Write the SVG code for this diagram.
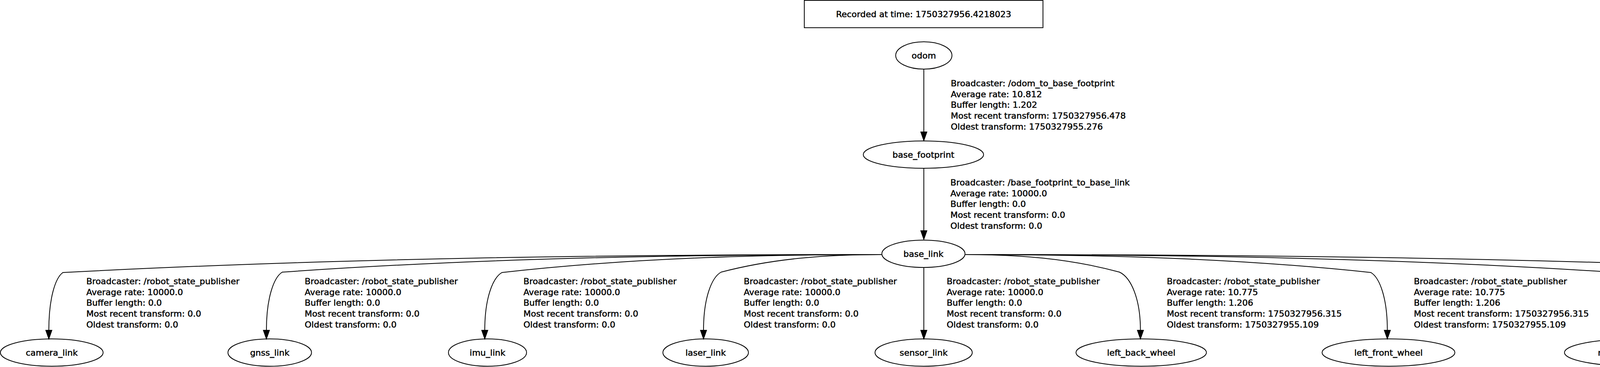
<svg xmlns="http://www.w3.org/2000/svg" width="5342" height="940" viewBox="0 0 5342 940">
<style>
  text { font-family: "DejaVu Sans", "Liberation Sans", sans-serif; font-size: 22px; fill: #000; stroke: #000; stroke-width: 0.6; }
  .nl { text-anchor: middle; }
  .node ellipse, .node rect { fill: none; stroke: #000; stroke-width: 2; }
  .edge path { fill: none; stroke: #000; stroke-width: 2; }
  .edge polygon { fill: #000; stroke: #000; stroke-width: 2; }
</style>
<rect x="0" y="0" width="5342" height="940" fill="#fff"/>

<g id="title" class="node">
  <rect x="2059" y="1" width="611" height="70"/>
  <text class="nl" x="2364.5" y="44">Recorded at time: 1750327956.4218023</text>
</g>

<g id="odom" class="node">
  <ellipse cx="2365" cy="142" rx="72" ry="35"/>
  <text class="nl" x="2365" y="150">odom</text>
</g>
<g id="base_footprint" class="node">
  <ellipse cx="2364" cy="396" rx="154" ry="35"/>
  <text class="nl" x="2364" y="404">base_footprint</text>
</g>
<g id="base_link" class="node">
  <ellipse cx="2364" cy="650" rx="106.5" ry="35"/>
  <text class="nl" x="2364" y="658">base_link</text>
</g>
<g id="camera_link" class="node">
  <ellipse cx="132.5" cy="903" rx="131.5" ry="35"/>
  <text class="nl" x="132.5" y="911">camera_link</text>
</g>
<g id="gnss_link" class="node">
  <ellipse cx="690.5" cy="903" rx="107" ry="35"/>
  <text class="nl" x="690.5" y="911">gnss_link</text>
</g>
<g id="imu_link" class="node">
  <ellipse cx="1248" cy="903" rx="100" ry="35"/>
  <text class="nl" x="1248" y="911">imu_link</text>
</g>
<g id="laser_link" class="node">
  <ellipse cx="1806.5" cy="903" rx="109.5" ry="35"/>
  <text class="nl" x="1806.5" y="911">laser_link</text>
</g>
<g id="sensor_link" class="node">
  <ellipse cx="2364.5" cy="903" rx="124.5" ry="35"/>
  <text class="nl" x="2364.5" y="911">sensor_link</text>
</g>
<g id="left_back_wheel" class="node">
  <ellipse cx="2921.5" cy="903" rx="167" ry="35"/>
  <text class="nl" x="2921.5" y="911">left_back_wheel</text>
</g>
<g id="left_front_wheel" class="node">
  <ellipse cx="3554.5" cy="903" rx="170" ry="35"/>
  <text class="nl" x="3554.5" y="911">left_front_wheel</text>
</g>
<g id="right_back_wheel" class="node">
  <ellipse cx="4186" cy="903" rx="181" ry="35"/>
  <text class="nl" x="4186" y="911">right_back_wheel</text>
</g>
<g id="right_front_wheel" class="node">
  <ellipse cx="4818" cy="903" rx="185" ry="35"/>
  <text class="nl" x="4818" y="911">right_front_wheel</text>
</g>

<g id="connectors">
  <g class="edge" id="odom-base_footprint">
    <path d="M2365,177 L2365,338"/>
    <polygon points="2357.3,338 2372.7,338 2365,360"/>
  </g>
  <g class="edge" id="base_footprint-base_link">
    <path d="M2365,431 L2365,591"/>
    <polygon points="2357.3,591 2372.7,591 2365,613"/>
  </g>
  <g class="edge" id="base_link-sensor_link">
    <path d="M2365,685 L2365,846"/>
    <polygon points="2357.3,846 2372.7,846 2365,868"/>
  </g>
  <g class="edge" id="base_link-camera_link">
    <path d="M2258,652 C1559,652 860,661.2 161,698 C141.2,712 125,765 125,846"/>
    <polygon points="117.3,846 132.7,846 125,868"/>
  </g>
  <g class="edge" id="base_link-gnss_link">
    <path d="M2258,652 C1746.2,652 1234.3,661 722.5,697 C700.2,711 682,765 682,846"/>
    <polygon points="674.3,846 689.7,846 682,868"/>
  </g>
  <g class="edge" id="base_link-imu_link">
    <path d="M2258,652 C1933.7,652 1609.3,661.2 1285,698 C1260.8,712 1241,765 1241,846"/>
    <polygon points="1233.3,846 1248.7,846 1241,868"/>
  </g>
  <g class="edge" id="base_link-laser_link">
    <path d="M2258,652 C2120.7,652 1983.3,661 1846,697 C1821,711 1801,765 1801,846"/>
    <polygon points="1793.3,846 1808.7,846 1801,868"/>
  </g>
  <g class="edge" id="base_link-left_back_wheel">
    <path d="M2471,652 C2602.7,652 2734.3,661 2866,697 C2895.4,711 2919.5,765 2919.5,846"/>
    <polygon points="2911.8,846 2927.2,846 2919.5,868"/>
  </g>
  <g class="edge" id="base_link-left_front_wheel">
    <path d="M2471,652 C2817.2,652 3163.4,661.2 3509.6,698 C3532.7,712 3551.6,765 3551.6,846"/>
    <polygon points="3543.9,846 3559.3,846 3551.6,868"/>
  </g>
  <g class="edge" id="base_link-right_back_wheel">
    <path d="M2471,652 C3028,652 3585,661.2 4142,698 C4164.5,712 4183,765 4183,846"/>
    <polygon points="4175.3,846 4190.7,846 4183,868"/>
  </g>
  <g class="edge" id="base_link-right_front_wheel">
    <path d="M2471,652 C3237.9,652 4004.7,661.2 4771.6,698 C4799.8,712 4822.8,765 4822.8,846"/>
    <polygon points="4815.1,846 4830.5,846 4822.8,868"/>
  </g>

  <text x="2434" y="221">Broadcaster: /odom_to_base_footprint</text>
  <text x="2434" y="248.7">Average rate: 10.812</text>
  <text x="2434" y="276.4">Buffer length: 1.202</text>
  <text x="2434" y="304.1">Most recent transform: 1750327956.478</text>
  <text x="2434" y="331.8">Oldest transform: 1750327955.276</text>

  <text x="2433" y="475">Broadcaster: /base_footprint_to_base_link</text>
  <text x="2433" y="502.7">Average rate: 10000.0</text>
  <text x="2433" y="530.4">Buffer length: 0.0</text>
  <text x="2433" y="558.1">Most recent transform: 0.0</text>
  <text x="2433" y="585.8">Oldest transform: 0.0</text>

  <text x="221" y="728">Broadcaster: /robot_state_publisher</text>
  <text x="221" y="755.7">Average rate: 10000.0</text>
  <text x="221" y="783.4">Buffer length: 0.0</text>
  <text x="221" y="811.1">Most recent transform: 0.0</text>
  <text x="221" y="838.8">Oldest transform: 0.0</text>

  <text x="780" y="728">Broadcaster: /robot_state_publisher</text>
  <text x="780" y="755.7">Average rate: 10000.0</text>
  <text x="780" y="783.4">Buffer length: 0.0</text>
  <text x="780" y="811.1">Most recent transform: 0.0</text>
  <text x="780" y="838.8">Oldest transform: 0.0</text>

  <text x="1340" y="728">Broadcaster: /robot_state_publisher</text>
  <text x="1340" y="755.7">Average rate: 10000.0</text>
  <text x="1340" y="783.4">Buffer length: 0.0</text>
  <text x="1340" y="811.1">Most recent transform: 0.0</text>
  <text x="1340" y="838.8">Oldest transform: 0.0</text>

  <text x="1904" y="728">Broadcaster: /robot_state_publisher</text>
  <text x="1904" y="755.7">Average rate: 10000.0</text>
  <text x="1904" y="783.4">Buffer length: 0.0</text>
  <text x="1904" y="811.1">Most recent transform: 0.0</text>
  <text x="1904" y="838.8">Oldest transform: 0.0</text>

  <text x="2423.5" y="728">Broadcaster: /robot_state_publisher</text>
  <text x="2423.5" y="755.7">Average rate: 10000.0</text>
  <text x="2423.5" y="783.4">Buffer length: 0.0</text>
  <text x="2423.5" y="811.1">Most recent transform: 0.0</text>
  <text x="2423.5" y="838.8">Oldest transform: 0.0</text>

  <text x="2987" y="728">Broadcaster: /robot_state_publisher</text>
  <text x="2987" y="755.7">Average rate: 10.775</text>
  <text x="2987" y="783.4">Buffer length: 1.206</text>
  <text x="2987" y="811.1">Most recent transform: 1750327956.315</text>
  <text x="2987" y="838.8">Oldest transform: 1750327955.109</text>

  <text x="3619.5" y="728">Broadcaster: /robot_state_publisher</text>
  <text x="3619.5" y="755.7">Average rate: 10.775</text>
  <text x="3619.5" y="783.4">Buffer length: 1.206</text>
  <text x="3619.5" y="811.1">Most recent transform: 1750327956.315</text>
  <text x="3619.5" y="838.8">Oldest transform: 1750327955.109</text>

  <text x="4251.5" y="728">Broadcaster: /robot_state_publisher</text>
  <text x="4251.5" y="755.7">Average rate: 10.775</text>
  <text x="4251.5" y="783.4">Buffer length: 1.206</text>
  <text x="4251.5" y="811.1">Most recent transform: 1750327956.315</text>
  <text x="4251.5" y="838.8">Oldest transform: 1750327955.109</text>

  <text x="4894" y="728">Broadcaster: /robot_state_publisher</text>
  <text x="4894" y="755.7">Average rate: 10.775</text>
  <text x="4894" y="783.4">Buffer length: 1.206</text>
  <text x="4894" y="811.1">Most recent transform: 1750327956.315</text>
  <text x="4894" y="838.8">Oldest transform: 1750327955.109</text>
</g>
</svg>
